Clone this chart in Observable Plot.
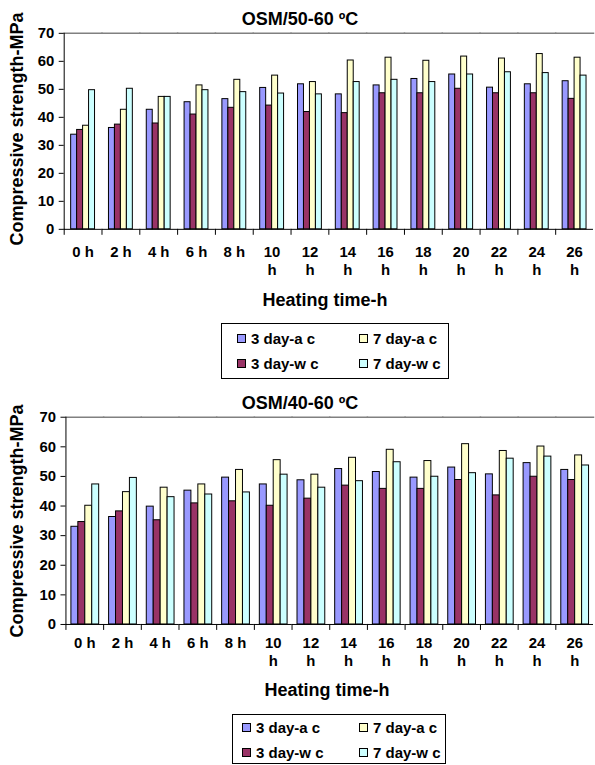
<!DOCTYPE html>
<html>
<head>
<meta charset="utf-8">
<script src="https://cdn.jsdelivr.net/npm/d3@7"></script>
<script src="https://cdn.jsdelivr.net/npm/@observablehq/plot@0.6"></script>
<style>
  html, body { margin: 0; padding: 0; background: #fff; overflow: hidden; }
  body { width: 595px; height: 765px; position: relative; font-family: "Liberation Sans", Arial, sans-serif; font-weight: bold; color: #000; }
  .abs { position: absolute; }
  .title { font-size: 18px; line-height: 18px; text-align: center; white-space: nowrap; }
  .ylab { font-size: 18px; line-height: 18px; width: 300px; height: 18px; text-align: center; white-space: nowrap; transform: translate(-50%, -50%) rotate(-90deg); }
  .legend { border: 1px solid #000; box-sizing: border-box; font-size: 15px; }
  .item { position: absolute; display: flex; align-items: center; white-space: nowrap; line-height: 15px; }
  .sw { width: 7px; height: 7px; border: 1px solid #000; margin-right: 5px; }
</style>
</head>
<body>
<script>
// ---- data ----
const hours = ["0","2","4","6","8","10","12","14","16","18","20","22","24","26"];
const hourLabels = ["0 h","2 h","4 h","6 h","8 h","10\nh","12\nh","14\nh","16\nh","18\nh","20\nh","22\nh","24\nh","26\nh"];
const series = ["3 day-a c","3 day-w c","7 day-a c","7 day-w c"];
const colors = ["#9999FF","#993366","#FFFFCC","#CCFFFF"];
const yTicks = [0,10,20,30,40,50,60,70];

// OSM/50-60 ºC
const top3a = [33.8,36.2,42.7,45.4,46.5,50.5,51.8,48.2,51.4,53.7,55.3,50.6,51.8,52.9];
const top3w = [35.5,37.4,37.8,41.0,43.4,44.2,41.9,41.5,48.6,48.6,50.2,48.6,48.6,46.6];
const top7a = [37.0,42.7,47.3,51.4,53.4,54.9,52.6,60.3,61.3,60.2,61.7,61.0,62.6,61.3];
const top7w = [49.7,50.2,47.3,49.7,49.0,48.5,48.2,52.6,53.4,52.6,55.3,56.1,55.8,54.9];

// OSM/40-60 ºC
const bot3a = [33.0,36.3,39.8,45.2,49.6,47.3,48.7,52.5,51.5,49.6,53.0,50.7,54.5,52.2];
const bot3w = [34.6,38.2,35.2,40.9,41.6,40.1,42.5,46.9,45.8,45.8,48.8,43.6,49.9,48.8];
const bot7a = [40.1,44.7,46.2,47.3,52.2,55.5,50.6,56.3,59.0,55.2,60.9,58.6,60.1,57.1];
const bot7w = [47.3,49.5,43.0,43.9,44.6,50.6,46.2,48.4,54.8,49.9,51.1,56.0,56.7,53.7];

function toRows(a3, w3, a7, w7) {
  const cols = [a3, w3, a7, w7];
  const out = [];
  hours.forEach((h, i) => series.forEach((s, j) => out.push({hour: h, series: s, value: cols[j][i]})));
  return out;
}

function chart({data, width, height, marginLeft, marginRight, marginTop, marginBottom, xPadOuter, tickPad}) {
  const plotH = height - marginTop - marginBottom;
  return Plot.plot({
    width, height, marginLeft, marginRight, marginTop, marginBottom,
    style: {fontFamily: "'Liberation Sans', Arial, sans-serif", fontSize: "15px", fontWeight: "bold", color: "#000", background: "transparent", overflow: "visible"},
    fx: {domain: hours, padding: 0, paddingInner: 0, paddingOuter: 0},
    x: {domain: series, paddingInner: 0, paddingOuter: xPadOuter, axis: null},
    y: {domain: [0, 70]},
    color: {domain: series, range: colors},
    marks: [
      Plot.frame({anchor: "top", stroke: "#808080", strokeWidth: 1.5}),
      Plot.barY(data, {fx: "hour", x: "series", y: "value", fill: "series", stroke: "#000", strokeWidth: 1}),
      Plot.ruleY([0], {stroke: "#000", strokeWidth: 1}),
      Plot.frame({anchor: "left", facetAnchor: "left", stroke: "#000", strokeWidth: 1}),
      Plot.frame({anchor: "left", stroke: "#000", strokeWidth: 1, insetTop: plotH, insetBottom: -5}),
      Plot.axisY({ticks: yTicks, tickSize: 5, tickPadding: 5, label: null, fontSize: 15, fontWeight: "bold"}),
      Plot.axisFx({anchor: "bottom", tickSize: 0, tickPadding: tickPad, label: null, lineHeight: 1.22,
                   fontSize: 15, fontWeight: "bold",
                   tickFormat: d => hourLabels[hours.indexOf(d)]})
    ]
  });
}

function place(el, left, top) {
  el.style.position = "absolute";
  el.style.left = left + "px";
  el.style.top = top + "px";
  document.body.appendChild(el);
  return el;
}

function div(cls, text) {
  const d = document.createElement("div");
  d.className = cls;
  if (text != null) d.textContent = text;
  return d;
}

function legend(left, top, width, height, col1, col2, row1, row2) {
  const box = div("abs legend");
  box.style.width = width + "px";
  box.style.height = height + "px";
  place(box, left, top);
  const order = [[0, col1, row1], [2, col2, row1], [1, col1, row2], [3, col2, row2]];
  for (const [k, x, y] of order) {
    const it = div("item");
    const sw = div("sw");
    sw.style.background = colors[k];
    it.appendChild(sw);
    it.appendChild(document.createTextNode(series[k]));
    it.style.left = (x - left - 1) + "px";
    it.style.top = (y - top - 1 - 7.5) + "px";
    box.appendChild(it);
  }
}

// ---- top chart ----
place(div("abs title", "OSM/50-60 ºC"), 150, 10).style.width = "300px";
const yl1 = place(div("abs ylab", "Compressive strength-MPa"), 16.5, 129);
place(chart({data: toRows(top3a, top3w, top7a, top7w), width: 598, height: 290,
             marginLeft: 62, marginRight: 0, marginTop: 33, marginBottom: 60, xPadOuter: 0.72, tickPad: 15}), 0, 0);
place(div("abs title", "Heating time-h"), 175, 291).style.width = "300px";
legend(221, 323, 228, 56, 237, 359, 338, 363);

// ---- bottom chart ----
place(div("abs title", "OSM/40-60 ºC"), 150, 394).style.width = "300px";
place(div("abs ylab", "Compressive strength-MPa"), 16.5, 521);
place(chart({data: toRows(bot3a, bot3w, bot7a, bot7w), width: 600, height: 290,
             marginLeft: 65.5, marginRight: 1.1, marginTop: 33, marginBottom: 48, xPadOuter: 0.6, tickPad: 11}), 0, 384);
place(div("abs title", "Heating time-h"), 177, 681).style.width = "300px";
legend(232, 714, 214, 50, 242, 359, 727.5, 752.5);
</script>
</body>
</html>
